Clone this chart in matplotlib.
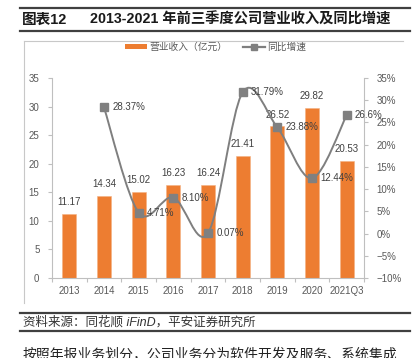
import matplotlib
matplotlib.use("Agg")
import matplotlib.pyplot as plt
from matplotlib.lines import Line2D
from matplotlib.patches import Patch, PathPatch
from matplotlib.path import Path
import numpy as np

plt.rcParams['font.family'] = ['Liberation Sans', 'Noto Sans CJK SC', 'DejaVu Sans']
plt.rcParams['axes.unicode_minus'] = True

# data
years = ['2013', '2014', '2015', '2016', '2017', '2018', '2019', '2020', '2021Q3']
revenue = [11.17, 14.34, 15.02, 16.23, 16.24, 21.41, 26.52, 29.82, 20.53]
growth = [None, 28.37, 4.71, 8.10, 0.07, 31.79, 23.88, 12.44, 26.6]
growth_labels = ['', '28.37%', '4.71%', '8.10%', '0.07%', '31.79%', '23.88%', '12.44%', '26.6%']

W, H = 416, 358
fig = plt.figure(figsize=(W / 100, H / 100), dpi=100)


def fx(px):
    return px / W


def fy(py):
    return 1 - py / H


# title block
fig.add_artist(Line2D([fx(20), fx(410)], [fy(8), fy(8)], color='#404040', lw=1.6, transform=fig.transFigure))
fig.add_artist(Line2D([fx(20), fx(410)], [fy(31), fy(31)], color='#404040', lw=1.6, transform=fig.transFigure))
fig.text(fx(22), fy(20), '图表12', fontsize=10.5, fontweight='bold', color='#1a1a1a', va='center')
fig.text(fx(90), fy(20), '2013-2021 年前三季度公司营业收入及同比增速', fontsize=10.3,
         fontweight='bold', color='#1a1a1a', va='center')

# chart frame
fig.add_artist(Line2D([fx(24), fx(403)], [fy(41), fy(41)], color='#c8c8c8', lw=0.8, transform=fig.transFigure))
fig.add_artist(Line2D([fx(24), fx(24)], [fy(41), fy(303)], color='#c8c8c8', lw=0.8, transform=fig.transFigure))

ax = fig.add_axes([fx(52), fy(278), fx(364) - fx(52), fy(78) - fy(278)])
x = np.arange(len(years))
bars = ax.bar(x, revenue, width=0.4, color='#ED7D31', edgecolor='#F4B183', linewidth=0.4, zorder=2)
ax.set_xlim(-0.5, len(years) - 0.5)
ax.set_ylim(0, 35)
ax.set_yticks(range(0, 36, 5))
ax.set_xticks(x)
ax.set_xticklabels(years)
ax.set_xticks(np.arange(-0.5, len(years), 1), minor=True)
ax.tick_params(axis='x', which='major', length=0, pad=6, labelsize=7, labelcolor='#595959')
ax.tick_params(axis='x', which='minor', length=3, color='#bfbfbf', width=0.8)
ax.tick_params(axis='y', length=3, color='#bfbfbf', width=0.8, labelsize=7, labelcolor='#595959', pad=6)
for s in ['top', 'right']:
    ax.spines[s].set_visible(False)
for s in ['left', 'bottom']:
    ax.spines[s].set_color('#bfbfbf')
    ax.spines[s].set_linewidth(0.8)

for xi, v in zip(x, revenue):
    ax.annotate(f'{v:.2f}', (xi, v), xytext=(0, 5), textcoords='offset points',
                ha='center', va='bottom', fontsize=7, color='#404040')

ax2 = ax.twinx()
ax2.set_ylim(-10, 35)
ax2.set_yticks(range(-10, 36, 5))
ax2.set_yticklabels([f'{t}%'.replace('-', '\u2212') for t in range(-10, 36, 5)])
ax2.tick_params(axis='y', length=3, color='#bfbfbf', width=0.8, labelsize=7, labelcolor='#595959', pad=6)
for s in ['top', 'left', 'bottom']:
    ax2.spines[s].set_visible(False)
ax2.spines['right'].set_color('#bfbfbf')
ax2.spines['right'].set_linewidth(0.8)

# smoothed growth line (Catmull-Rom style bezier like Excel)
gx = np.array([xi for xi, g in zip(x, growth) if g is not None], dtype=float)
gy = np.array([g for g in growth if g is not None], dtype=float)
pts = np.column_stack([gx, gy])
verts = [pts[0]]
codes = [Path.MOVETO]
n = len(pts)
for i in range(n - 1):
    p0 = pts[i - 1] if i > 0 else pts[i]
    p1 = pts[i]
    p2 = pts[i + 1]
    p3 = pts[i + 2] if i + 2 < n else pts[i + 1]
    c1 = p1 + (p2 - p0) / 6
    c2 = p2 - (p3 - p1) / 6
    verts += [c1, c2, p2]
    codes += [Path.CURVE4] * 3
ax2.add_patch(PathPatch(Path(verts, codes), facecolor='none', edgecolor='#7f7f7f', lw=1.4, zorder=3))
ax2.plot(gx, gy, linestyle='none', marker='s', markersize=6, color='#808080', zorder=4)
for xi, g, lab in zip(x, growth, growth_labels):
    if g is None:
        continue
    ax2.annotate(lab, (xi, g), xytext=(6, 0), textcoords='offset points',
                 ha='left', va='center', fontsize=7, color='#404040', zorder=5)

handles = [Patch(facecolor='#ED7D31', edgecolor='none'),
           Line2D([], [], color='#7f7f7f', lw=1.6, marker='s', markersize=4)]
fig.legend(handles, ['营业收入（亿元）', '同比增速'], loc='center', bbox_to_anchor=(fx(216), fy(47)),
           ncol=2, frameon=False, fontsize=7, labelcolor='#595959', handlelength=2.2,
           handleheight=0.5, columnspacing=1.6, handletextpad=0.3)

# source
fig.add_artist(Line2D([fx(20), fx(410)], [fy(313), fy(313)], color='#404040', lw=1.6, transform=fig.transFigure))
fig.text(fx(23), fy(322.5), '资料来源：同花顺 iFinD，平安证券研究所', fontsize=9, style='italic',
         color='#333333', va='center')
fig.add_artist(Line2D([fx(20), fx(410)], [fy(331), fy(331)], color='#404040', lw=1.6, transform=fig.transFigure))
fig.text(fx(23), fy(347), '按照年报业务划分，公司业务分为软件开发及服务、系统集成', fontsize=10,
         color='#222222', va='top')

fig.savefig('out.png', dpi=100)
